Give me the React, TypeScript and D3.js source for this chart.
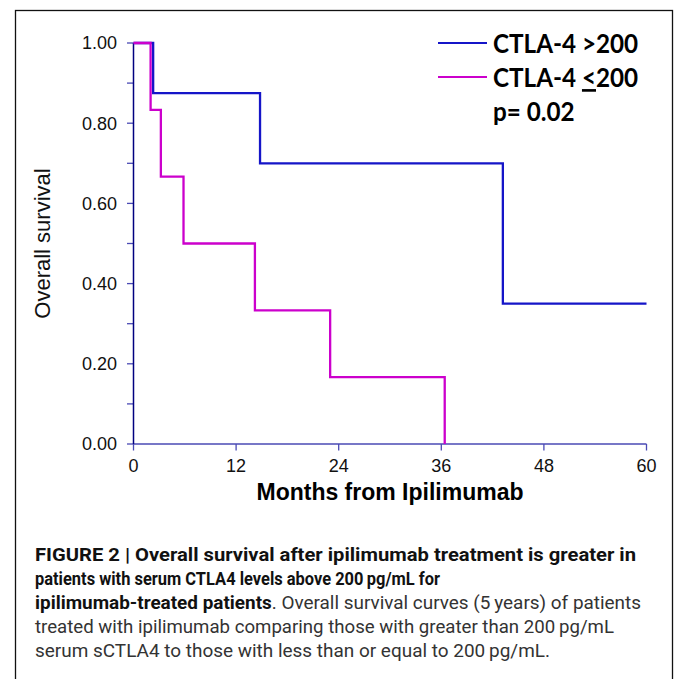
import React from "react";
import * as d3 from "d3";

const highTimes = [0, 2.3, 14.8, 43.2, 60];
const highSurv = [1, 0.875, 0.7, 0.35, 0.35];
const lowTimes = [0, 2.0, 3.2, 5.85, 14.2, 23.0, 36.4];
const lowSurv = [1, 0.833, 0.667, 0.5, 0.333, 0.167, 0];
const xTicks = [0, 12, 24, 36, 48, 60];
const yMajor = [0, 0.2, 0.4, 0.6, 0.8, 1.0];
const yMinor = [0, 0.1, 0.2, 0.3, 0.4, 0.5, 0.6, 0.7, 0.8, 0.9, 1.0];
const seriesNames = ["CTLA-4 >200", "CTLA-4 ", "<", "200"];
const pText = "p= 0.02";
const captionLines = [
  { bold: "FIGURE 2 | Overall survival after ipilimumab treatment is greater in", rest: "", len: 601 },
  { bold: "patients with serum CTLA4 levels above 200\u2009pg/mL for", rest: "", len: 405 },
  { bold: "ipilimumab-treated patients", rest: ". Overall survival curves (5\u2009years) of patients", len: 606 },
  { bold: "", rest: "treated with ipilimumab comparing those with greater than 200\u2009pg/mL", len: 579 },
  { bold: "", rest: "serum sCTLA4 to those with less than or equal to 200\u2009pg/mL.", len: 515 },
];

const W = 675;
const H = 679;
const x = d3.scaleLinear().domain([0, 60]).range([133.5, 646.5]);
const y = d3.scaleLinear().domain([0, 1]).range([444, 43]);

const line = d3
  .line<[number, number]>()
  .x((d) => x(d[0]))
  .y((d) => y(d[1]))
  .curve(d3.curveStepAfter);

const highData: [number, number][] = highTimes.map((t, i) => [t, highSurv[i]]);
const lowData: [number, number][] = lowTimes.map((t, i) => [t, lowSurv[i]]);

const BLUE = "#1515c8";
const MAGENTA = "#cc00cc";
const AX = "#4a4ab4";

export default function App() {
  return (
    <div style={{ position: "absolute", left: 0, top: 0 }}>
      <svg width={W} height={H} style={{ display: "block", background: "#fff" }}>
        <rect x={15.5} y={10.5} width={657} height={720} fill="none" stroke="#111" strokeWidth={1.3} />
        {/* axes */}
        {yMinor.map((v) => (
          <line key={"ym" + v} x1={x(0) - 6.5} x2={x(0)} y1={y(v)} y2={y(v)} stroke={AX} strokeWidth={1.3} />
        ))}
        {xTicks.map((v) => (
          <line key={"xt" + v} x1={x(v)} x2={x(v)} y1={y(0)} y2={y(0) + 6.5} stroke={AX} strokeWidth={1.3} />
        ))}
        <line x1={x(0)} x2={x(60)} y1={y(0)} y2={y(0)} stroke={AX} strokeWidth={1.5} />
        <line x1={x(0)} x2={x(0)} y1={y(0)} y2={y(1)} stroke="#000080" strokeWidth={1.5} />
        {yMajor.map((v) => (
          <text
            key={"yl" + v}
            x={117}
            y={y(v)}
            dy="0.35em"
            textAnchor="end"
            fontFamily="'Liberation Sans', Arial, sans-serif"
            fontSize={18}
            fill="#111"
          >
            {v.toFixed(2)}
          </text>
        ))}
        {xTicks.map((v) => (
          <text
            key={"xl" + v}
            x={x(v)}
            y={472}
            textAnchor="middle"
            fontFamily="'Liberation Sans', Arial, sans-serif"
            fontSize={18}
            fill="#111"
          >
            {v}
          </text>
        ))}
        <text
          x={(x(0) + x(60)) / 2}
          y={500}
          textAnchor="middle"
          fontFamily="'Liberation Sans', Arial, sans-serif"
          fontWeight="bold"
          fontSize={23}
          fill="#000"
        >
          Months from Ipilimumab
        </text>
        <text
          transform={`translate(50,${(y(0) + y(1)) / 2}) rotate(-90)`}
          textAnchor="middle"
          fontFamily="'Liberation Sans', Arial, sans-serif"
          fontSize={22}
          fill="#111"
        >
          Overall survival
        </text>
        {/* curves */}
        <path d={line(highData) || ""} fill="none" stroke={BLUE} strokeWidth={2.3} />
        <path d={line(lowData) || ""} fill="none" stroke={MAGENTA} strokeWidth={2.3} />
        {/* legend */}
        <line x1={438} x2={487} y1={43} y2={43} stroke={BLUE} strokeWidth={2} />
        <line x1={438} x2={487} y1={77} y2={77} stroke={MAGENTA} strokeWidth={2} />
        <g
          transform="translate(493,0) scale(0.915,1)"
          fontFamily="Lato, 'Open Sans', sans-serif"
          fontWeight="bold"
          fontSize={26.5}
          fill="#000"
        >
          <text x={0} y={53}>{seriesNames[0]}</text>
          <text x={0} y={87}>
            {seriesNames[1]}
            <tspan textDecoration="underline">{seriesNames[2]}</tspan>
            {seriesNames[3]}
          </text>
          <text x={0} y={121}>{pText}</text>
        </g>
        {/* caption */}
        <g fontFamily="Roboto, 'Liberation Sans', sans-serif" fontSize={18}>
          {captionLines.map((c, i) => (
            <text
              key={"cap" + i}
              x={35}
              y={561 + i * 24}
              textLength={c.len}
              lengthAdjust="spacingAndGlyphs"
            >
              {c.bold && (
                <tspan fontWeight="bold" fill="#111">
                  {c.bold}
                </tspan>
              )}
              {c.rest && <tspan fill="#333">{c.rest}</tspan>}
            </text>
          ))}
        </g>
      </svg>
    </div>
  );
}
